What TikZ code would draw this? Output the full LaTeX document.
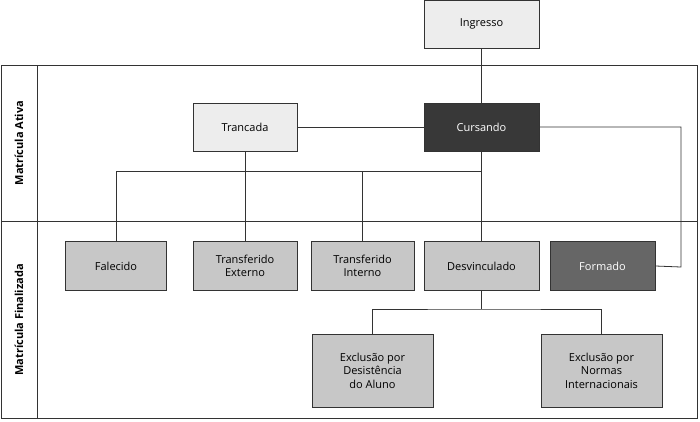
\documentclass[tikz,border=0pt]{standalone}
\usepackage{fontspec}
\setmainfont{Open Sans}
\begin{document}
\begin{tikzpicture}[x=1pt,y=-1pt,
  bx/.style={draw=black!80,line width=0.8pt,minimum width=#1,align=center,inner sep=0pt,font=\fontsize{11}{13.5}\selectfont},
  lt/.style={bx=104pt,fill=black!7,minimum height=48pt},
  md/.style={bx=104pt,fill=black!22,minimum height=49pt},
  ln/.style={line width=0.8pt,draw=black!80}]
\useasboundingbox (0,0) rectangle (700,421);
\draw[ln] (1,65) rectangle (697,418);
\draw[ln] (37,65) -- (37,418);
\draw[ln] (1,221) -- (697,221);
\node[rotate=90,font=\fontsize{11}{13}\selectfont\bfseries] (la) at (19,143) {Matrícula Ativa};
\node[rotate=90,font=\fontsize{11}{13}\selectfont\bfseries] (lf) at (19,320) {Matrícula Finalizada};
\node[lt,minimum width=115pt] (ing) at (481.5,24) {Ingresso};
\node[lt] (tra) at (245,127) {Trancada};
\node[bx=115pt,fill=black!78,text=white,minimum height=48pt] (cur) at (481.5,127) {Cursando};
\node[md,minimum width=101pt] (fal) at (116,266) {Falecido};
\node[md] (tex) at (245,266) {Transferido\\Externo};
\node[md,minimum width=103pt] (tin) at (362.5,266) {Transferido\\Interno};
\node[md,minimum width=115pt] (des) at (481.5,266) {Desvinculado};
\node[bx=105pt,fill=black!60,text=white,minimum height=49pt] (for) at (602.5,266) {Formado};
\node[md,minimum width=121pt,minimum height=73pt] (e1) at (372.5,370.5) {Exclusão por\\Desistência\\do Aluno};
\node[md,minimum width=121pt,minimum height=73pt] (e2) at (601.5,370.5) {Exclusão por\\Normas\\Internacionais};
\coordinate (j) at (481.5,171);
\draw[ln] (ing) -- (cur);
\draw[ln] (tra) -- (cur);
\draw[ln] (cur.east) -- (681,127) -- (681,267) -- (for.east);
\draw[ln] (cur) -- (des);
\draw[ln] (j) -| (fal);
\draw[ln] (tin.north) -- (tin.north |- j);
\draw[ln] (tra) -- (tex);
\coordinate (k) at (481.5,309);
\draw[ln] (des) -- (k);
\draw[ln] (e1) |- (k) -| (e2);
\end{tikzpicture}
\end{document}
